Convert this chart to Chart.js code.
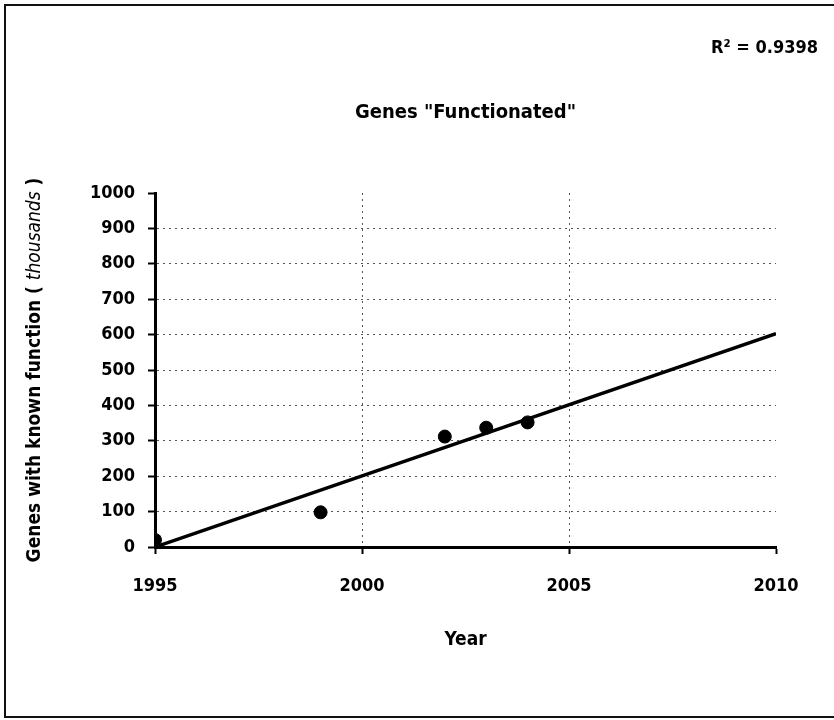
<!DOCTYPE html>
<html>
<head>
<meta charset="utf-8">
<script src="https://cdn.jsdelivr.net/npm/chart.js@4.4.0/dist/chart.umd.min.js"></script>
<style>
  body { margin: 0; background: #fff; overflow: hidden; }
  #frame { position: absolute; left: 4px; top: 4px; width: 900px; height: 710px; border: 2px solid #111; }
  #genesChart { position: absolute; left: 0; top: 0; }
</style>
</head>
<body>
<div id="frame"></div>
<canvas id="genesChart" width="834" height="720"></canvas>
<script>
// data
const years = [1995, 1999, 2002, 2003, 2004];
const genes = [20, 98, 312, 337, 352];
// trend line ends (linear fit shown in the original)
const trendYears = [1995, 2010];
const trendGenes = [0, 603];
const rSquared = '0.9398';

const FONT = 'DejaVu Sans Condensed';

const points = years.map((y, i) => ({ x: y, y: genes[i] }));
const trend = trendYears.map((y, i) => ({ x: y, y: trendGenes[i] }));

// y axis title (italic "thousands") and the R² note
const textPlugin = {
    id: 'extraText',
    afterDraw(chart) {
        const { ctx, chartArea } = chart;
        const parts = [
            { t: 'Genes with known function ( ', f: 'bold 19px ' + FONT },
            { t: 'thousands', f: 'italic 19px ' + FONT },
            { t: ' )', f: 'bold 19px ' + FONT }
        ];
        ctx.save();
        let total = 0;
        parts.forEach(p => { ctx.font = p.f; p.w = ctx.measureText(p.t).width; total += p.w; });
        ctx.translate(chart.scales.y.left + 35, (chartArea.top + chartArea.bottom) / 2);
        ctx.rotate(-Math.PI / 2);
        ctx.fillStyle = '#000';
        ctx.textBaseline = 'middle';
        let x = -total / 2;
        parts.forEach(p => { ctx.font = p.f; ctx.fillText(p.t, x, 0); x += p.w; });
        ctx.restore();

        ctx.save();
        ctx.font = 'bold 18px ' + FONT;
        ctx.fillStyle = '#000';
        ctx.textAlign = 'right';
        ctx.textBaseline = 'middle';
        ctx.fillText('R\u00b2 = ' + rSquared, chart.width - 16, 48);
        ctx.restore();
    }
};

const gridColor = inner => ctx => inner(ctx.tick.value) ? '#555' : 'rgba(0,0,0,0)';

new Chart(document.getElementById('genesChart'), {
    type: 'scatter',
    data: {
        datasets: [
            {
                label: 'Genes',
                data: points,
                backgroundColor: '#000',
                borderColor: '#000',
                pointRadius: 6.5,
                pointHoverRadius: 6.5
            },
            {
                label: 'Trend',
                type: 'line',
                data: trend,
                borderColor: '#000',
                borderWidth: 3.5,
                pointRadius: 0,
                fill: false
            }
        ]
    },
    plugins: [textPlugin],
    options: {
        responsive: false,
        animation: false,
        layout: { padding: { left: 0, right: 58, top: 0, bottom: 0 } },
        scales: {
            x: {
                type: 'linear',
                min: 1995,
                max: 2010,
                afterFit: s => { s.height = 173; },
                ticks: { stepSize: 5, color: '#000', font: { family: FONT, size: 18, weight: 'bold' }, padding: 22,
                    callback: v => String(v) },
                grid: { color: gridColor(v => v > 1995 && v < 2010), lineWidth: 1, tickColor: '#000', tickLength: 7, tickWidth: 2 },
                border: { color: '#000', width: 3, dash: [2, 4] },
                title: { display: true, text: 'Year', color: '#000', font: { family: FONT, size: 19, weight: 'bold' }, padding: { top: 0, bottom: 69 } }
            },
            y: {
                min: 0,
                max: 1000,
                afterFit: s => { s.width = 155; },
                ticks: { stepSize: 100, color: '#000', font: { family: FONT, size: 18, weight: 'bold' }, padding: 13,
                    callback: v => String(v) },
                grid: { color: gridColor(v => v > 0 && v < 1000), lineWidth: 1, tickColor: '#000', tickLength: 7, tickWidth: 2 },
                border: { color: '#000', width: 3, dash: [2, 4] }
            }
        },
        plugins: {
            legend: { display: false },
            tooltip: { enabled: false },
            title: {
                display: true,
                fullSize: false,
                text: 'Genes "Functionated"',
                color: '#000',
                font: { family: FONT, size: 20, weight: 'bold' },
                padding: { top: 101, bottom: 68 }
            }
        }
    }
});
</script>
</body>
</html>
